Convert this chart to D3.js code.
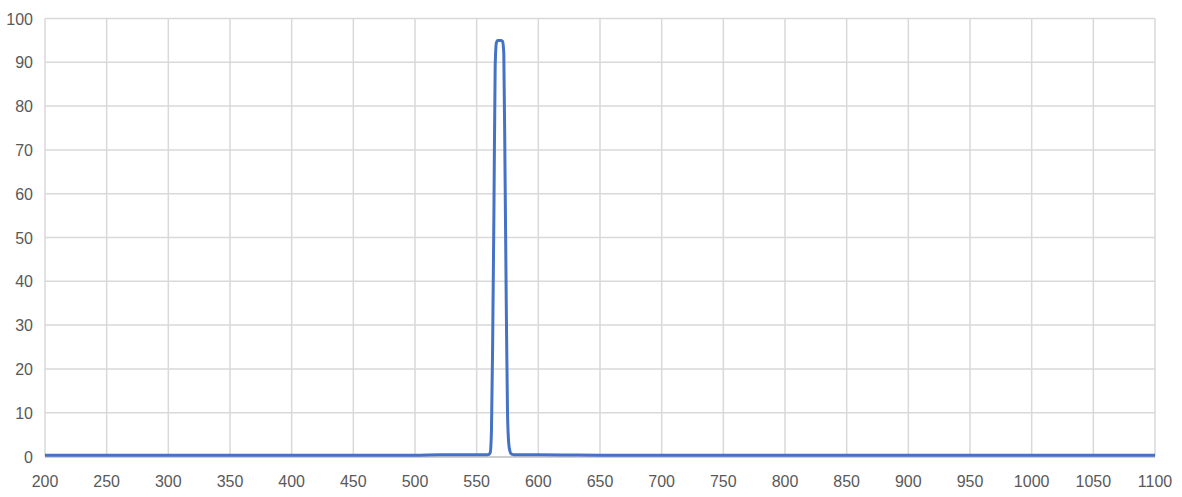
<!DOCTYPE html>
<html><head><meta charset="utf-8">
<script src="https://cdn.jsdelivr.net/npm/d3@7"></script>
<style>body{margin:0;background:#fff;}svg{display:block;font-family:"Liberation Sans",Arial,sans-serif;}</style>
</head><body><svg id="c" width="1182" height="497"></svg>
<script>
const wavelengths = [200,250,300,350,400,450,500,520,540,550,555,558,560,561,562,563,564,565,566,567,568,569,570,571,572,573,574,575,576,577,578,579,580,590,600,620,650,700,750,800,850,900,950,1000,1050,1100];
const transmission = [0.3,0.3,0.3,0.3,0.3,0.3,0.3,0.4,0.4,0.4,0.4,0.4,0.5,0.9,6,27,56,89,94.5,95,95,95,95,94.8,92,65,35,10,3,1.2,0.6,0.5,0.4,0.4,0.4,0.35,0.3,0.3,0.3,0.3,0.3,0.3,0.3,0.3,0.3,0.3];
const xTicks = d3.range(200, 1101, 50);
const yTicks = d3.range(0, 101, 10);

const svg = d3.select("#c");
const x = d3.scaleLinear().domain([200,1100]).range([45,1155]);
const y = d3.scaleLinear().domain([0,100]).range([456.5,18.5]);

svg.append("g").selectAll("line").data(yTicks.filter(d=>d>0)).join("line")
  .attr("x1",x(200)).attr("x2",x(1100)).attr("y1",d=>y(d)).attr("y2",d=>y(d))
  .attr("stroke","#d9d9d9").attr("stroke-width",1.5);
svg.append("g").selectAll("line").data(xTicks).join("line")
  .attr("x1",d=>x(d)).attr("x2",d=>x(d)).attr("y1",y(0)).attr("y2",y(100))
  .attr("stroke","#d9d9d9").attr("stroke-width",1.5);
svg.append("line").attr("x1",x(200)).attr("x2",x(1100)).attr("y1",y(0)+0.5).attr("y2",y(0)+0.5)
  .attr("stroke","#bfbfbf").attr("stroke-width",1.5);

svg.append("g").selectAll("text").data(yTicks).join("text")
  .attr("x",33).attr("y",d=>y(d)+0.5).attr("dy","0.35em").attr("text-anchor","end")
  .attr("font-size",16).attr("fill","#595959").text(d=>d);
svg.append("g").selectAll("text").data(xTicks).join("text")
  .attr("x",d=>x(d)).attr("y",481).attr("dy","0.35em").attr("text-anchor","middle")
  .attr("font-size",16).attr("fill","#595959").text(d=>d);

const pts = wavelengths.map((w,i)=>[w,transmission[i]]);
svg.append("path").datum(pts)
  .attr("d", d3.line().x(d=>x(d[0])).y(d=>y(d[1])).curve(d3.curveMonotoneX))
  .attr("fill","none").attr("stroke","#4472C4").attr("stroke-width",3).attr("stroke-linejoin","round");
</script></body></html>
